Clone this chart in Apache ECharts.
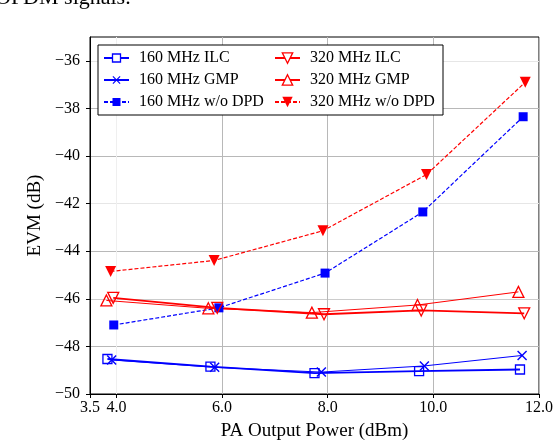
<!DOCTYPE html>
<html>
<head>
<meta charset="utf-8">
<script src="https://cdn.jsdelivr.net/npm/echarts@6/dist/echarts.min.js"></script>
<style>
html,body{margin:0;padding:0;background:#fff;}
#chart{width:556px;height:446px;}
</style>
</head>
<body>
<div id="chart"></div>
<script>
// ---- data ----
const xTicks = [3.5, 4.0, 6.0, 8.0, 10.0, 12.0];
const yTicks = [-50, -48, -46, -44, -42, -40, -38, -36];

const ilc160X = [3.83, 5.78, 7.75, 9.73, 11.64];
const ilc160Y = [-48.53, -48.85, -49.12, -49.04, -48.97];
const gmp160X = [3.91, 5.86, 7.88, 9.83, 11.68];
const gmp160Y = [-48.57, -48.88, -49.08, -48.82, -48.38];
const noDpd160X = [3.95, 5.94, 7.95, 9.80, 11.70];
const noDpd160Y = [-47.10, -46.38, -44.92, -42.35, -38.35];
const ilc320X = [3.94, 5.91, 7.93, 9.77, 11.72];
const ilc320Y = [-45.96, -46.38, -46.65, -46.49, -46.61];
const gmp320X = [3.81, 5.74, 7.70, 9.70, 11.61];
const gmp320Y = [-46.07, -46.40, -46.58, -46.26, -45.71];
const noDpd320X = [3.89, 5.85, 7.91, 9.87, 11.74];
const noDpd320Y = [-44.85, -44.39, -43.14, -40.78, -36.90];

const names = ['160 MHz ILC', '160 MHz GMP', '160 MHz w/o DPD', '320 MHz ILC', '320 MHz GMP', '320 MHz w/o DPD'];

// ---- build ----
const FONT = 'Liberation Serif';
const BLUE = '#0000ff', RED = '#ff0000';
const XSYM = 'path://M0,1L1,0L5,4L9,0L10,1L6,5L10,9L9,10L5,6L1,10L0,9L4,5Z';
const zip = (xs, ys) => xs.map((x, i) => [x, ys[i]]);

function mk(name, xs, ys, color, opt) {
  return {
    name: name,
    type: 'line',
    data: zip(xs, ys),
    symbol: opt.symbol,
    symbolSize: opt.size,
    symbolRotate: opt.rotate || 0,
    showAllSymbol: true,
    animation: false,
    lineStyle: { color: color, width: opt.width, type: opt.dash ? [4, 2] : 'solid' },
    itemStyle: opt.hollow
      ? { color: 'rgba(0,0,0,0)', borderColor: color, borderWidth: 1.3 }
      : { color: color, borderWidth: 0 },
    emphasis: { disabled: true },
    z: 2
  };
}

const series = [
  mk(names[0], ilc160X, ilc160Y, BLUE, { symbol: 'rect', size: 9, hollow: true, width: 1.8 }),
  mk(names[1], gmp160X, gmp160Y, BLUE, { symbol: XSYM, size: 10, width: 1.0 }),
  mk(names[2], noDpd160X, noDpd160Y, BLUE, { symbol: 'rect', size: 9, width: 1.2, dash: true }),
  mk(names[3], ilc320X, ilc320Y, RED, { symbol: 'triangle', size: 11, rotate: 180, hollow: true, width: 1.8 }),
  mk(names[4], gmp320X, gmp320Y, RED, { symbol: 'triangle', size: 11, hollow: true, width: 1.0 }),
  mk(names[5], noDpd320X, noDpd320Y, RED, { symbol: 'triangle', size: 11, rotate: 180, width: 1.2, dash: true })
];

const legendCommon = {
  orient: 'vertical',
  top: 50,
  padding: 0,
  itemGap: 6,
  itemWidth: 25,
  selectedMode: false,
  textStyle: { fontFamily: FONT, fontSize: 16, color: '#000', padding: [0, 0, 0, 5] },
  z: 5
};
const hollowItem = (n, c) => ({ name: n, itemStyle: { color: '#fff', borderColor: c, borderWidth: 1.3 } });

const chart = echarts.init(document.getElementById('chart'), null, { renderer: 'canvas' });
chart.setOption({
  animation: false,
  backgroundColor: '#fff',
  graphic: [
    { type: 'text', left: -5, top: -13, z: 10,
      style: { text: 'OFDM signals.', font: '22px "Liberation Serif"', fill: '#000' } },
    { type: 'rect', z: 4, shape: { x: 98, y: 45, width: 345, height: 70 },
      style: { fill: '#fff', stroke: '#000', lineWidth: 1 } }
  ],
  grid: { left: 90, right: 13, top: 37, bottom: 47, show: true, borderColor: '#000', borderWidth: 1, containLabel: false },
  legend: [
    Object.assign({}, legendCommon, { left: 103, itemHeight: 10,
      data: [hollowItem(names[0], BLUE), names[1], names[2]] }),
    Object.assign({}, legendCommon, { left: 274, itemHeight: 13,
      data: [hollowItem(names[3], RED), hollowItem(names[4], RED), names[5]] })
  ],
  xAxis: {
    type: 'value',
    min: 3.5, max: 12,
    name: 'PA Output Power (dBm)',
    nameLocation: 'middle',
    nameGap: 28,
    nameTextStyle: { fontFamily: FONT, fontSize: 19, color: '#000' },
    axisLine: { show: true, onZero: false, lineStyle: { color: '#000', width: 1 } },
    axisTick: { show: true, length: 4, customValues: xTicks, lineStyle: { color: '#000' } },
    axisLabel: { customValues: xTicks, margin: 6, fontFamily: FONT, fontSize: 16, color: '#000',
      formatter: v => v.toFixed(1) },
    splitLine: { show: true, lineStyle: { width: 1,
      color: ['#b8b8b8', '#efefef', '#b8b8b8', '#b8b8b8', '#b8b8b8', '#b8b8b8'] } }
  },
  yAxis: {
    type: 'value',
    min: -50, max: -35,
    name: 'EVM (dB)',
    nameLocation: 'middle',
    nameGap: 36,
    nameTextStyle: { fontFamily: FONT, fontSize: 19, color: '#000' },
    axisLine: { show: true, onZero: false, lineStyle: { color: '#000', width: 1 } },
    axisTick: { show: true, length: 4, customValues: yTicks, lineStyle: { color: '#000' } },
    axisLabel: { customValues: yTicks, margin: 10, fontFamily: FONT, fontSize: 16, color: '#000',
      formatter: v => (v < 0 ? '\u2212' : '') + Math.abs(v) },
    splitLine: { show: true, lineStyle: { width: 1,
      color: ['#b8b8b8', '#b8b8b8', '#cccccc', '#b8b8b8', '#e6e6e6', '#b8b8b8', '#b8b8b8', '#e6e6e6'] } }
  },
  series: series
});
</script>
</body>
</html>
